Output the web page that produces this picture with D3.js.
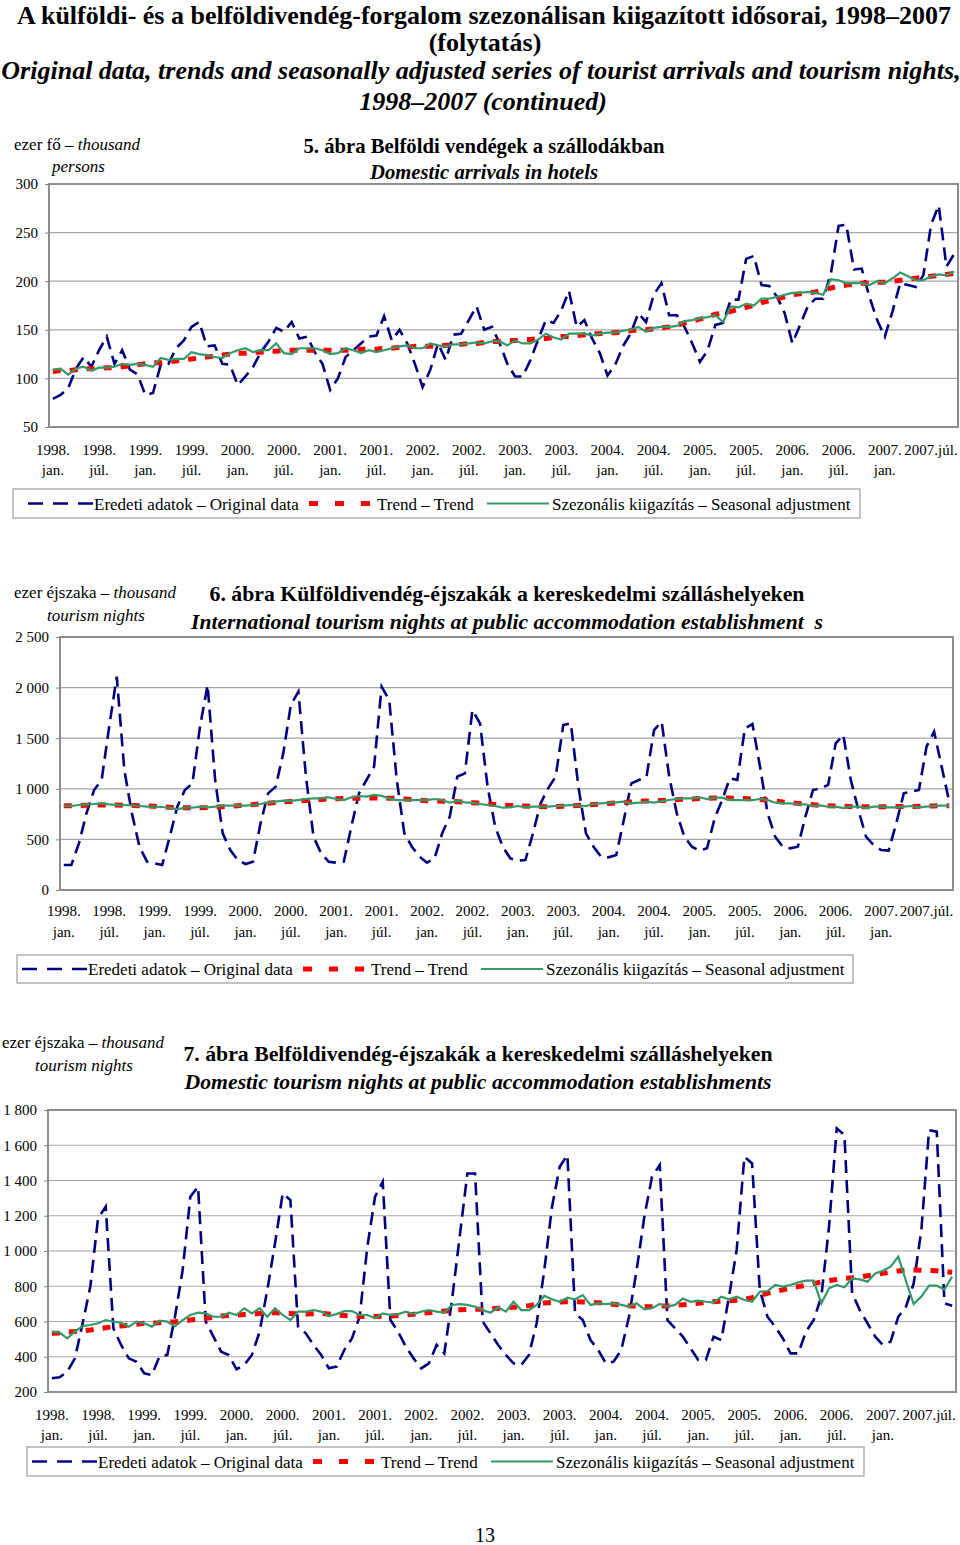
<!DOCTYPE html>
<html>
<head>
<meta charset="utf-8">
<script src="https://cdn.jsdelivr.net/npm/d3@7"></script>
<style>
  body { margin: 0; background: #fff; }
  svg text { font-family: "Liberation Serif", "Times New Roman", serif; fill: #000; }
</style>
</head>
<body>
<svg id="page" width="960" height="1545"></svg>
<script>
// ===== data =====
// months Jan 1998 .. Oct 2007 (118 categories)
const months = d3.timeMonths(new Date(1998, 0, 1), new Date(2007, 10, 1));
const tickLabels = [
  ["1998.","jan."],["1998.","júl."],["1999.","jan."],["1999.","júl."],["2000.","jan."],
  ["2000.","júl."],["2001.","jan."],["2001.","júl."],["2002.","jan."],["2002.","júl."],
  ["2003.","jan."],["2003.","júl."],["2004.","jan."],["2004.","júl."],["2005.","jan."],
  ["2005.","júl."],["2006.","jan."],["2006.","júl."],["2007.","jan."],["2007.júl."]
];
const legendLabels = ["Eredeti adatok – Original data", "Trend – Trend", "Szezonális kiigazítás – Seasonal adjustment"];

// 5. ábra – domestic arrivals in hotels (thousand persons)
const arrOrig = [
  79,83,90,110,122,112,129,143,115,129,109,104,
  83,85,114,115,131,139,153,158,133,134,115,114,
  93,102,112,127,138,152,148,158,141,143,127,115,
  88,100,122,129,136,143,144,164,139,150,136,115,
  91,109,136,119,145,146,160,174,150,153,136,115,
  102,102,119,140,160,157,170,190,153,160,141,126,
  103,114,133,146,167,158,186,198,165,165,153,136,
  117,129,155,157,181,181,223,226,196,195,184,167,
  136,155,174,182,182,208,257,258,212,213,184,160,
  143,169,198,196,194,206,258,278,215,228
];
const arrTrend = [
  107,108,108,109,110,110,110,111,111,112,113,114,
  115,116,116,117,118,119,120,121,122,123,124,125,
  126,126,127,127,128,128,129,129,129,129,129,129,
  129,129,129,129,130,130,130,131,131,132,132,133,
  133,133,133,134,134,135,136,136,137,138,138,139,
  139,140,140,141,141,142,143,143,144,145,146,146,
  147,147,148,149,150,150,151,152,153,155,157,159,
  161,163,166,167,169,171,173,175,178,180,182,184,
  186,187,188,189,191,193,195,196,197,198,198,199,
  199,200,201,202,203,204,205,206,207,208
];
const arrSA = [
  109,110,104,110,112,108,111,111,112,115,114,115,
  114,112,121,119,120,120,127,125,124,122,121,126,
  129,131,127,129,129,136,126,125,131,131,131,129,
  125,126,131,129,126,129,127,129,131,133,134,131,
  131,136,134,133,135,135,136,137,136,138,138,134,
  139,136,136,140,146,142,140,146,146,146,144,146,
  147,147,149,150,153,148,152,153,153,154,159,160,
  162,163,165,158,174,173,177,175,182,182,184,186,
  188,188,189,188,186,202,201,198,198,198,196,200,
  198,203,209,205,201,201,205,207,206,210
];

// 6. ábra – international tourism nights (thousand)
const intOrig = [
  247,247,461,758,988,1087,1614,2108,1186,758,428,280,
  264,247,527,823,988,1054,1614,2026,1087,560,395,296,
  257,280,659,955,1021,1350,1828,1960,1120,527,362,280,
  270,280,626,955,1087,1219,2009,1878,1087,560,428,329,
  270,313,560,725,1120,1153,1779,1647,1021,626,428,313,
  290,296,560,856,1005,1120,1630,1647,1021,560,428,329,
  323,346,692,1054,1087,1120,1581,1663,1120,758,527,428,
  389,412,708,889,1103,1087,1597,1640,1219,758,527,428,
  412,428,725,988,1005,1038,1449,1532,1087,791,527,445,
  395,389,659,955,972,988,1416,1565,1219,873
];
const intTrend = [
  833,833,835,837,840,840,840,840,838,835,833,830,
  828,822,818,815,813,813,813,815,820,823,827,833,
  840,845,852,858,865,870,875,880,885,890,895,900,
  902,904,906,907,908,909,908,907,905,900,895,888,
  883,880,878,875,873,868,863,858,852,846,840,836,
  832,830,828,825,823,825,828,832,836,840,845,850,
  855,860,865,870,875,879,882,885,889,893,897,900,
  903,906,908,909,908,906,903,899,894,889,880,870,
  862,856,850,843,837,833,830,827,825,823,823,823,
  823,823,824,825,826,828,830,831,832,833
];
const intSA = [
  833,830,840,847,850,856,847,840,840,835,830,823,
  823,820,813,797,813,813,823,817,823,833,833,833,
  833,840,850,863,873,883,880,889,899,906,906,916,
  899,889,916,929,922,939,930,906,889,889,889,889,
  889,899,889,863,880,866,860,850,840,830,813,817,
  830,817,823,823,823,830,833,840,833,830,850,856,
  863,866,873,856,863,873,863,879,889,899,906,906,
  916,899,913,913,889,889,889,889,899,889,863,856,
  856,850,846,830,837,823,823,810,823,823,810,823,
  823,817,817,823,830,817,823,830,833,833
];

// 7. ábra – domestic tourism nights (thousand)
const domOrig = [
  278,283,315,391,590,798,1185,1251,561,467,391,372,
  306,296,404,410,627,892,1308,1365,599,514,429,410,
  329,353,410,542,779,1043,1327,1289,571,533,467,410,
  334,344,438,504,627,1024,1308,1393,608,542,457,391,
  334,363,467,419,722,1081,1440,1440,599,533,467,410,
  363,353,410,590,892,1251,1478,1544,646,608,495,438,
  363,372,438,627,892,1195,1422,1488,608,561,514,448,
  382,382,514,495,741,1006,1535,1497,779,627,571,504,
  419,419,542,608,741,1138,1696,1658,760,665,590,514,
  467,486,627,684,816,1119,1686,1677,703,690
];
const domTrend = [
  533,535,540,543,547,552,558,565,570,575,580,585,
  590,592,593,596,599,603,608,613,618,624,631,634,
  637,640,643,646,648,650,648,646,644,642,644,646,
  642,637,634,631,629,627,628,630,631,634,637,641,
  646,650,654,659,663,666,668,669,670,672,675,678,
  681,684,690,697,705,708,711,712,712,711,709,706,
  703,698,693,689,686,684,685,687,689,692,695,699,
  704,709,712,715,718,721,726,735,748,760,770,780,
  790,798,805,815,825,832,838,845,848,852,860,866,
  873,880,887,892,892,891,889,888,882,879
];
const domSA = [
  542,537,504,542,574,580,590,608,599,593,571,599,
  590,571,605,599,574,608,637,650,646,627,627,650,
  637,675,646,675,627,675,637,608,656,656,665,656,
  631,642,659,659,637,637,618,646,637,642,656,642,
  656,665,656,650,694,699,694,684,665,650,680,656,
  712,665,665,694,745,726,712,735,726,750,694,703,
  699,703,694,684,703,669,675,699,684,694,731,712,
  718,712,707,741,726,741,722,712,769,773,807,798,
  807,822,832,832,703,788,807,794,845,839,826,873,
  888,911,968,830,699,741,803,803,782,854
];

// ===== styles =====
const C_ORIG = "#000080", C_TREND = "#ff0000", C_SA = "#339966";
const FONT = '"Liberation Serif","Times New Roman",serif';
const fmtNum = v => d3.format(",")(v).replace(/,/g, " ");

const svg = d3.select("#page");

// ===== page title =====
const head = svg.append("g").attr("text-anchor", "middle")
  .attr("font-size", 26).attr("font-weight", "bold");
head.append("text").attr("x", 484).attr("y", 24)
  .text("A külföldi- és a belföldivendég-forgalom szezonálisan kiigazított idősorai, 1998–2007");
head.append("text").attr("x", 485).attr("y", 51).text("(folytatás)");
head.append("text").attr("x", 481).attr("y", 79).attr("font-style", "italic")
  .text("Original data, trends and seasonally adjusted series of tourist arrivals and tourism nights,");
head.append("text").attr("x", 483).attr("y", 110).attr("font-style", "italic")
  .text("1998–2007 (continued)");

// ===== panels =====
const panels = [
  {
    left: 49, right: 958, top: 184, bottom: 427, domain: [50, 300], ticks: d3.range(50, 301, 50),
    unit: [{x: 14, y: 150, a: "ezer fő – ", b: "thousand"}, {x: 52, y: 172, b: "persons"}],
    title: {x: 484, y1: 153, y2: 179, hu: "5. ábra Belföldi vendégek a szállodákban", en: "Domestic arrivals in hotels",
            w1: 361, w2: 228},
    xl1: 455, xl2: 475,
    legend: {x: 13, y: 489, w: 847, h: 29, sx: 28},
    orig: arrOrig, trend: arrTrend, sa: arrSA
  },
  {
    left: 60, right: 953, top: 637, bottom: 890, domain: [0, 2500], ticks: d3.range(0, 2501, 500),
    unit: [{x: 14, y: 598, a: "ezer éjszaka – ", b: "thousand"}, {x: 47, y: 621, b: "tourism nights"}],
    title: {x: 507, y1: 601, y2: 629, hu: "6. ábra Külföldivendég-éjszakák a kereskedelmi szálláshelyeken",
            en: "International tourism nights at public accommodation establishment  s", w1: 595, w2: 632},
    xl1: 916, xl2: 937,
    legend: {x: 17, y: 955, w: 836, h: 28, sx: 22},
    orig: intOrig, trend: intTrend, sa: intSA
  },
  {
    left: 48, right: 956, top: 1110, bottom: 1392, domain: [200, 1800], ticks: d3.range(200, 1801, 200),
    unit: [{x: 2, y: 1048, a: "ezer éjszaka – ", b: "thousand"}, {x: 35, y: 1071, b: "tourism nights"}],
    title: {x: 478, y1: 1061, y2: 1089, hu: "7. ábra Belföldivendég-éjszakák a kereskedelmi szálláshelyeken",
            en: "Domestic tourism nights at public accommodation establishments", w1: 589, w2: 587},
    xl1: 1420, xl2: 1440,
    legend: {x: 27, y: 1447, w: 837, h: 29, sx: 32},
    orig: domOrig, trend: domTrend, sa: domSA
  }
];

function drawPanel(p){
  const g = svg.append("g");
  const idx = d3.range(months.length);
  const x = d3.scaleBand().domain(idx).range([p.left, p.right]);
  const cx = i => x(i) + x.bandwidth() / 2;
  const y = d3.scaleLinear().domain(p.domain).range([p.bottom, p.top]);

  // unit label
  p.unit.forEach(u => {
    const t = g.append("text").attr("x", u.x).attr("y", u.y).attr("font-size", 17);
    if (u.a) t.append("tspan").text(u.a);
    t.append("tspan").attr("font-style", "italic").text(u.b);
  });

  // chart title
  g.append("text").attr("x", p.title.x).attr("y", p.title.y1).attr("text-anchor", "middle")
    .attr("font-size", 21).attr("font-weight", "bold")
    .attr("textLength", p.title.w1).attr("lengthAdjust", "spacingAndGlyphs").text(p.title.hu);
  g.append("text").attr("x", p.title.x).attr("y", p.title.y2).attr("text-anchor", "middle")
    .attr("font-size", 21).attr("font-weight", "bold").attr("font-style", "italic")
    .attr("textLength", p.title.w2).attr("lengthAdjust", "spacingAndGlyphs")
    .style("white-space", "pre").text(p.title.en);

  // grid
  g.append("g").selectAll("line").data(p.ticks.slice(1, -1)).join("line")
    .attr("x1", p.left).attr("x2", p.right)
    .attr("y1", d => y(d)).attr("y2", d => y(d))
    .attr("stroke", "#a6a6a6").attr("stroke-width", 1.2);

  // y axis
  const gy = g.append("g").attr("transform", `translate(${p.left},0)`)
    .call(d3.axisLeft(y).tickValues(p.ticks).tickSize(4).tickPadding(7).tickFormat(fmtNum));
  gy.select(".domain").remove();
  gy.selectAll(".tick line").attr("stroke", "#808080");
  gy.selectAll("text").attr("font-size", 15).attr("font-family", FONT).attr("fill", "#000");

  // x axis (category labels every 6 months)
  const tickIdx = tickLabels.map((_, k) => k * 6);
  const gx = g.append("g").attr("transform", `translate(0,${p.bottom})`)
    .call(d3.axisBottom(x).tickValues(tickIdx).tickSize(0).tickFormat(""));
  gx.select(".domain").remove();
  gx.selectAll(".tick").each(function(d, k){
    const t = d3.select(this).select("text").attr("font-size", 15).attr("font-family", FONT)
      .attr("fill", "#000").attr("dy", null).attr("y", 0);
    tickLabels[k].forEach((s, j) => {
      t.append("tspan").attr("x", 0).attr("y", (j === 0 ? p.xl1 : p.xl2) - p.bottom).text(s);
    });
  });

  // plot frame
  g.append("rect").attr("x", p.left).attr("y", p.top)
    .attr("width", p.right - p.left).attr("height", p.bottom - p.top)
    .attr("fill", "none").attr("stroke", "#8c8c8c").attr("stroke-width", 2);

  // series
  const line = d3.line().x((d, i) => cx(i)).y(d => y(d));
  g.append("path").attr("d", line(p.orig)).attr("fill", "none")
    .attr("stroke", C_ORIG).attr("stroke-width", 2.6).attr("stroke-dasharray", "13,7");
  g.append("path").attr("d", line(p.trend)).attr("fill", "none")
    .attr("stroke", C_TREND).attr("stroke-width", 5).attr("stroke-dasharray", "8,9");
  g.append("path").attr("d", line(p.sa)).attr("fill", "none")
    .attr("stroke", C_SA).attr("stroke-width", 2.2);

  // legend
  const L = p.legend, ly = L.y + L.h / 2, ty = L.y + L.h / 2 + 6;
  const lg = g.append("g");
  lg.append("rect").attr("x", L.x).attr("y", L.y).attr("width", L.w).attr("height", L.h)
    .attr("fill", "#fff").attr("stroke", "#b0b0b0").attr("stroke-width", 1.5);
  lg.append("line").attr("x1", L.sx).attr("x2", L.sx + 65).attr("y1", ly).attr("y2", ly)
    .attr("stroke", C_ORIG).attr("stroke-width", 2.5).attr("stroke-dasharray", "15,10");
  lg.append("text").attr("x", L.sx + 66).attr("y", ty).attr("font-size", 17).text(legendLabels[0]);
  lg.append("line").attr("x1", L.sx + 281).attr("x2", L.sx + 342).attr("y1", ly).attr("y2", ly)
    .attr("stroke", C_TREND).attr("stroke-width", 5).attr("stroke-dasharray", "9,17");
  lg.append("text").attr("x", L.sx + 349).attr("y", ty).attr("font-size", 17).text(legendLabels[1]);
  lg.append("line").attr("x1", L.sx + 459).attr("x2", L.sx + 521).attr("y1", ly).attr("y2", ly)
    .attr("stroke", C_SA).attr("stroke-width", 2);
  lg.append("text").attr("x", L.sx + 524).attr("y", ty).attr("font-size", 17).text(legendLabels[2]);
}

panels.forEach(drawPanel);

// page number
svg.append("text").attr("x", 485).attr("y", 1542).attr("text-anchor", "middle")
  .attr("font-size", 20).text("13");
</script>
</body>
</html>
